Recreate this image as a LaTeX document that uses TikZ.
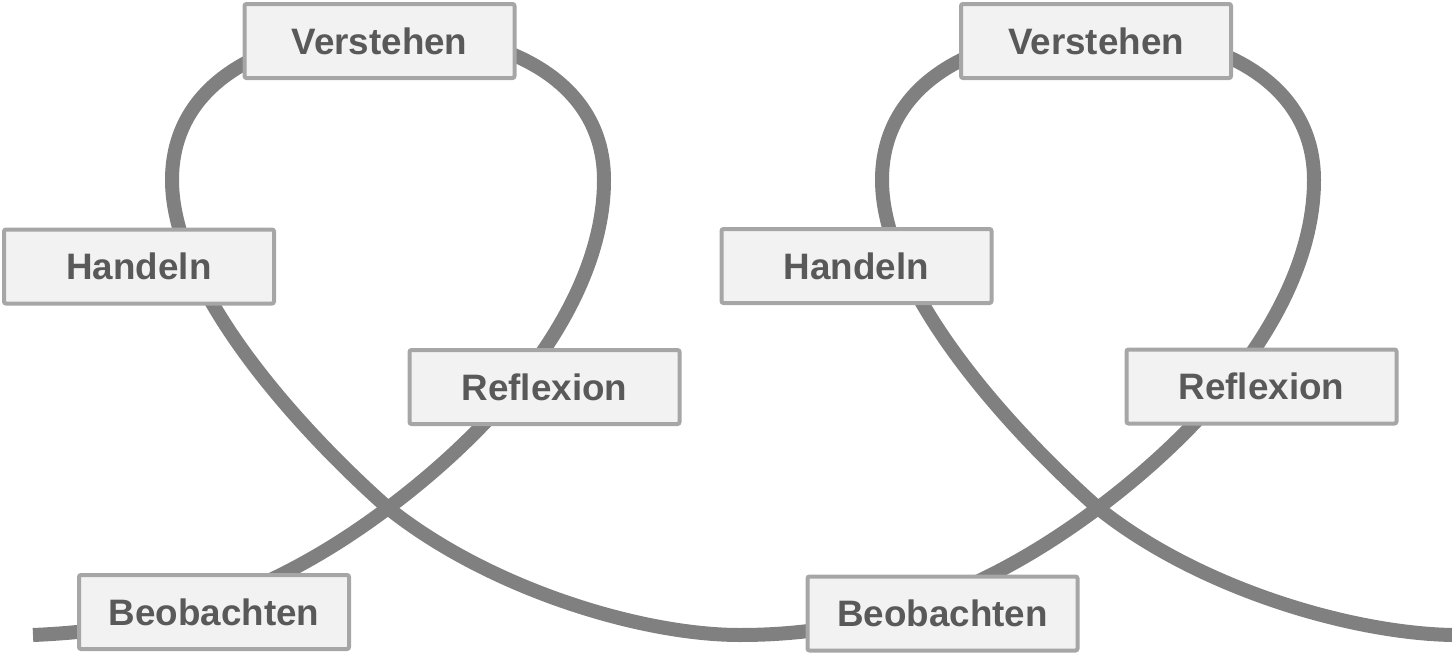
\documentclass[tikz,border=0pt]{standalone}
\usepackage{fontspec}
\setmainfont{Liberation Sans}
\definecolor{curvegray}{HTML}{808080}
\definecolor{boxborder}{HTML}{A6A6A6}
\definecolor{boxfill}{HTML}{F2F2F2}
\definecolor{boxtext}{HTML}{595959}
\tikzset{
  loopline/.style={draw=curvegray, line width=14pt},
  stagebox/.style={draw=boxborder, fill=boxfill, line width=4pt, rounded corners=2pt,
    minimum width=270pt, minimum height=74pt, inner sep=0pt,
    text=boxtext, font=\fontsize{36.8}{44}\selectfont\bfseries}
}
\begin{document}
\begin{tikzpicture}[x=1pt, y=-1pt]
\useasboundingbox (0,0) rectangle (1452,653);
\draw[loopline] (33,635) .. controls (150,630) and (260,604) .. (388,508)
 .. controls (518,410.5) and (604,290) .. (604,180)
 .. controls (604,80) and (505,32) .. (388,32)
 .. controls (271,32) and (172,80) .. (172,180)
 .. controls (172,290) and (300,430) .. (388,508)
 .. controls (488,588) and (640,635) .. (740,635)
 .. controls (860,635) and (975,600) .. (1098,508)
 .. controls (1228,410.5) and (1314,290) .. (1314,180)
 .. controls (1314,80) and (1215,32) .. (1098,32)
 .. controls (981,32) and (882,80) .. (882,180)
 .. controls (882,290) and (1010,430) .. (1098,508)
 .. controls (1198,588) and (1350,633) .. (1452,635);
\node[stagebox] (v1) at (379.5,41) {Verstehen};
\node[stagebox] (h1) at (139,266.5) {Handeln};
\node[stagebox] (r1) at (544.5,387) {Reflexion};
\node[stagebox] (b1) at (214,612) {Beobachten};
\node[stagebox] (v2) at (1096,41) {Verstehen};
\node[stagebox] (h2) at (856.5,266) {Handeln};
\node[stagebox] (r2) at (1261.5,386.5) {Reflexion};
\node[stagebox] (b2) at (942.5,613.5) {Beobachten};
\end{tikzpicture}
\end{document}
